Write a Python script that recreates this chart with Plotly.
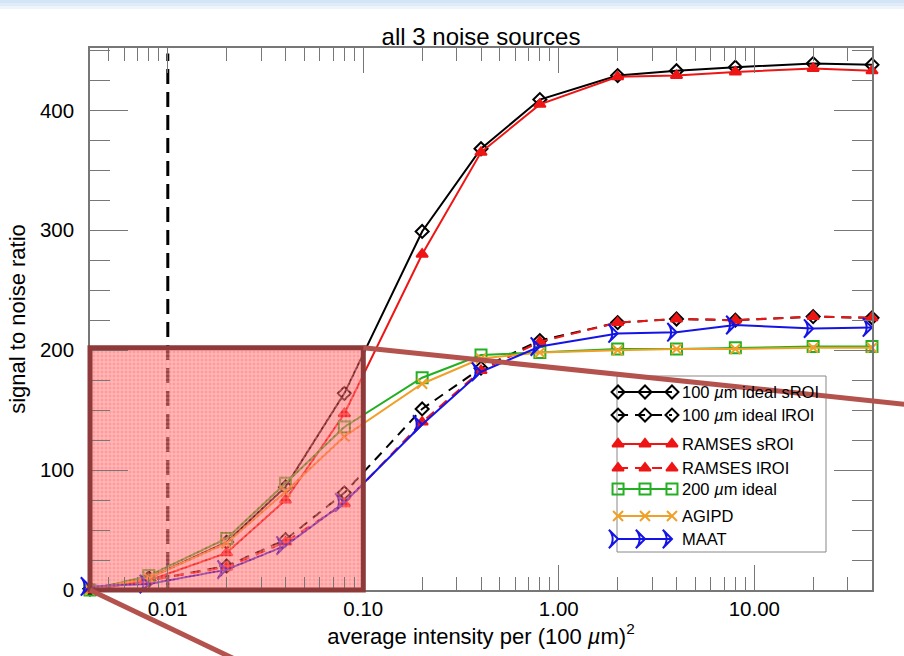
import math
import plotly.graph_objects as go

# ---------------- data ----------------
intensity = [0.004, 0.008, 0.02, 0.04, 0.08, 0.2, 0.4, 0.8, 2, 4, 8, 20, 40]

snr_100_sroi = [1, 10, 40, 86, 164, 299, 368, 409, 429, 433, 436, 439, 438]
snr_100_lroi = [1, 8, 20, 42, 81, 151, 185, 208, 223, 226, 225, 228, 227]
snr_ramses_sroi = [0, 8, 31, 75, 147, 280, 365, 405, 428, 429, 432, 435, 433]
snr_ramses_lroi = [1, 8, 19, 40, 72, 140, 183, 207, 223, 226, 225, 228, 227]
snr_200_ideal = [0, 12, 43, 89, 136, 177, 196, 198, 201, 201, 202, 203, 203]
snr_agipd = [0, 10, 39, 82, 128, 172, 193, 198, 200, 201, 201, 202, 202]
snr_maat = [3, 5, 17, 37, 73, 138, 182, 203, 214, 215, 221, 218, 219]

series_names = ["100 <i>µ</i>m ideal sROI", "100 <i>µ</i>m ideal lROI", "RAMSES sROI",
                "RAMSES lROI", "200 <i>µ</i>m ideal", "AGIPD", "MAAT"]

x_ticks = [0.01, 0.1, 1, 10]
x_tick_text = ["0.01", "0.10", "1.00", "10.00"]
x_minor_ticks = [0.005, 0.006, 0.007, 0.008, 0.009,
                 0.02, 0.03, 0.04, 0.05, 0.06, 0.07, 0.08, 0.09,
                 0.2, 0.3, 0.4, 0.5, 0.6, 0.7, 0.8, 0.9,
                 2, 3, 4, 5, 6, 7, 8, 9,
                 20, 30]
y_ticks = [0, 100, 200, 300, 400]

x_limits = [0.004, 40]
y_limits = [0, 452]

threshold_x = 0.01          # dashed vertical line
zoom_box_x = [0.004, 0.1]   # highlighted region
zoom_box_y = [0, 202]

# ---------------- styles ----------------
FONT = "Liberation Sans, Arial, Helvetica, sans-serif"
BLACK = "#000000"
RED = "#ee1515"
GREEN = "#22b022"
ORANGE = "#f0a028"
BLUE = "#1414e6"
BOX = "#8e3a3a"
BOXLINE = "#b4534e"
AXIS = "#777777"

styles = [
    dict(y=snr_100_sroi, color=BLACK, dash="solid", symbol="diamond-open", size=10),
    dict(y=snr_100_lroi, color=BLACK, dash="10px,7px", symbol="diamond-open", size=10),
    dict(y=snr_ramses_sroi, color=RED, dash="solid", symbol="triangle-up", size=10),
    dict(y=snr_ramses_lroi, color=RED, dash="10px,7px", symbol="triangle-up", size=10),
    dict(y=snr_200_ideal, color=GREEN, dash="solid", symbol="square-open", size=11),
    dict(y=snr_agipd, color=ORANGE, dash="solid", symbol="x-thin-open", size=10),
    dict(y=snr_maat, color=BLUE, dash="solid", symbol="arrow-wide-open", size=13),
]

fig = go.Figure()

for name, s in zip(series_names, styles):
    fig.add_trace(go.Scatter(
        x=intensity, y=s["y"], name=name, mode="lines+markers",
        line=dict(color=s["color"], width=2, dash=s["dash"]),
        marker=dict(symbol=s["symbol"], size=s["size"], color=s["color"],
                    angle=90 if s["symbol"].startswith("arrow") else 0,
                    line=dict(color=s["color"], width=2)),
        cliponaxis=False, showlegend=False, xaxis="x", yaxis="y"))

# highlighted zoom region (semi-transparent grid pattern)
bx = [zoom_box_x[0], zoom_box_x[1], zoom_box_x[1], zoom_box_x[0], zoom_box_x[0]]
by = [zoom_box_y[0], zoom_box_y[0], zoom_box_y[1], zoom_box_y[1], zoom_box_y[0]]
fig.add_trace(go.Scatter(
    x=bx, y=by, mode="none", fill="toself", showlegend=False, hoverinfo="skip",
    fillcolor="rgba(255,55,55,0.5)",
    fillpattern=dict(shape="+", size=4, solidity=0.4,
                     fgcolor="rgba(255,255,255,0.8)", bgcolor="rgba(255,55,55,0.5)")))

# ---------------- helpers for paper coordinates ----------------
lx0, lx1 = math.log10(x_limits[0]), math.log10(x_limits[1])


def px(xv):
    return (math.log10(xv) - lx0) / (lx1 - lx0)


def py(yv):
    return (yv - y_limits[0]) / (y_limits[1] - y_limits[0])


W, H = 904, 656
ML, MR, MT, MB = 90, 32, 48, 66
PW, PH = W - ML - MR, H - MT - MB


def pix_x(p):  # pixel -> paper
    return (p - ML) / PW


def pix_y(p):
    return (H - MB - p) / PH


shapes = []
# top decorative band
for i, c in enumerate(["#d3e4f6", "#dfebf8", "#edf4fb"]):
    shapes.append(dict(type="rect", xref="paper", yref="paper",
                       x0=pix_x(0), x1=pix_x(W), y0=pix_y(3 * i + 3), y1=pix_y(3 * i),
                       line=dict(width=0), fillcolor=c, layer="below"))
# dashed vertical threshold line
shapes.append(dict(type="line", xref="x", yref="paper", x0=threshold_x, x1=threshold_x,
                   y0=0, y1=0.99, line=dict(color="black", width=3, dash="15px,8px"),
                   layer="below"))
# zoom box border
bx0, bx1 = px(zoom_box_x[0]), px(zoom_box_x[1])
by0, by1 = py(zoom_box_y[0]), py(zoom_box_y[1])
shapes.append(dict(type="rect", xref="paper", yref="paper", x0=bx0, x1=bx1, y0=by0, y1=by1,
                   line=dict(color=BOX, width=5), layer="above"))
# zoom connector lines
shapes.append(dict(type="line", xref="paper", yref="paper", x0=bx1, y0=by1,
                   x1=pix_x(912), y1=pix_y(405), line=dict(color=BOXLINE, width=5), layer="above"))
shapes.append(dict(type="line", xref="paper", yref="paper", x0=bx0, y0=by0,
                   x1=pix_x(245), y1=pix_y(664), line=dict(color=BOXLINE, width=5), layer="above"))

# ---------------- custom legend ----------------
leg_x0, leg_x1, leg_y0, leg_y1 = pix_x(617), pix_x(826), pix_y(552), pix_y(376)
shapes.append(dict(type="rect", xref="paper", yref="paper", x0=leg_x0, x1=leg_x1,
                   y0=leg_y0, y1=leg_y1, line=dict(color="#888888", width=1),
                   fillcolor="white", layer="below"))
legend_rows = [0.909, 0.778, 0.614, 0.477, 0.358, 0.205, 0.074]
sample_u = [0.005, 0.134, 0.263]
annotations = []
for name, s, v in zip(series_names, styles, legend_rows):
    fig.add_trace(go.Scatter(
        x=sample_u, y=[v] * 3, mode="lines+markers", xaxis="x2", yaxis="y2",
        line=dict(color=s["color"], width=2, dash=s["dash"]),
        marker=dict(symbol=s["symbol"], size=s["size"], color=s["color"],
                    angle=90 if s["symbol"].startswith("arrow") else 0,
                    line=dict(color=s["color"], width=2)),
        cliponaxis=False, showlegend=False, hoverinfo="skip"))
    annotations.append(dict(x=0.30, y=v, xref="x2", yref="y2", text=name, showarrow=False,
                            xanchor="left", yanchor="middle",
                            font=dict(size=16.5, color="black", family=FONT)))

fig.update_layout(
    width=W, height=H,
    margin=dict(l=ML, r=MR, t=MT, b=MB, autoexpand=False),
    paper_bgcolor="white", plot_bgcolor="rgba(0,0,0,0)",
    font=dict(family=FONT, size=20, color="black"),
    title=dict(text="all 3 noise sources", x=0.5, xref="paper", xanchor="center",
               y=1 - 37 / H, yref="container", yanchor="middle",
               font=dict(size=24, family=FONT)),
    shapes=shapes, annotations=annotations,
    xaxis=dict(type="log", range=[lx0, lx1], tickvals=x_ticks, ticktext=x_tick_text,
               ticks="inside", ticklen=25, tickwidth=1.3, tickcolor=AXIS,
               minor=dict(ticks="inside", ticklen=13, tickwidth=1.3, tickcolor=AXIS,
                          tickmode="array", tickvals=x_minor_ticks, showgrid=False),
               showline=True, linecolor=AXIS, linewidth=1.5, mirror="ticks",
               showgrid=False, zeroline=False, automargin=False,
               tickfont=dict(size=20.5),
               title=dict(text="average intensity per (100 <i>µ</i>m)<sup>2</sup>",
                          font=dict(size=22), standoff=6)),
    yaxis=dict(range=y_limits, tickvals=y_ticks, ticks="inside", ticklen=38, tickwidth=1.3,
               tickcolor=AXIS,
               minor=dict(ticks="inside", ticklen=20, dtick=25, tick0=0, tickwidth=1.3,
                          tickcolor=AXIS, showgrid=False),
               showline=True, linecolor=AXIS, linewidth=1.5, mirror="ticks",
               showgrid=False, zeroline=False, ticklabelstandoff=10, automargin=False,
               tickfont=dict(size=20.5),
               title=dict(text="signal to noise ratio", font=dict(size=22), standoff=8)),
    xaxis2=dict(domain=[leg_x0, leg_x1], range=[0, 1], anchor="y2", visible=False,
                fixedrange=True),
    yaxis2=dict(domain=[leg_y0, leg_y1], range=[0, 1], anchor="x2", visible=False,
                fixedrange=True),
)

# place the figure at the top-left corner of the page (no default body margin)
fig.write_html("out.html", config={"displayModeBar": False},
               post_script="document.body.style.margin='0';document.body.style.overflow='hidden';")
